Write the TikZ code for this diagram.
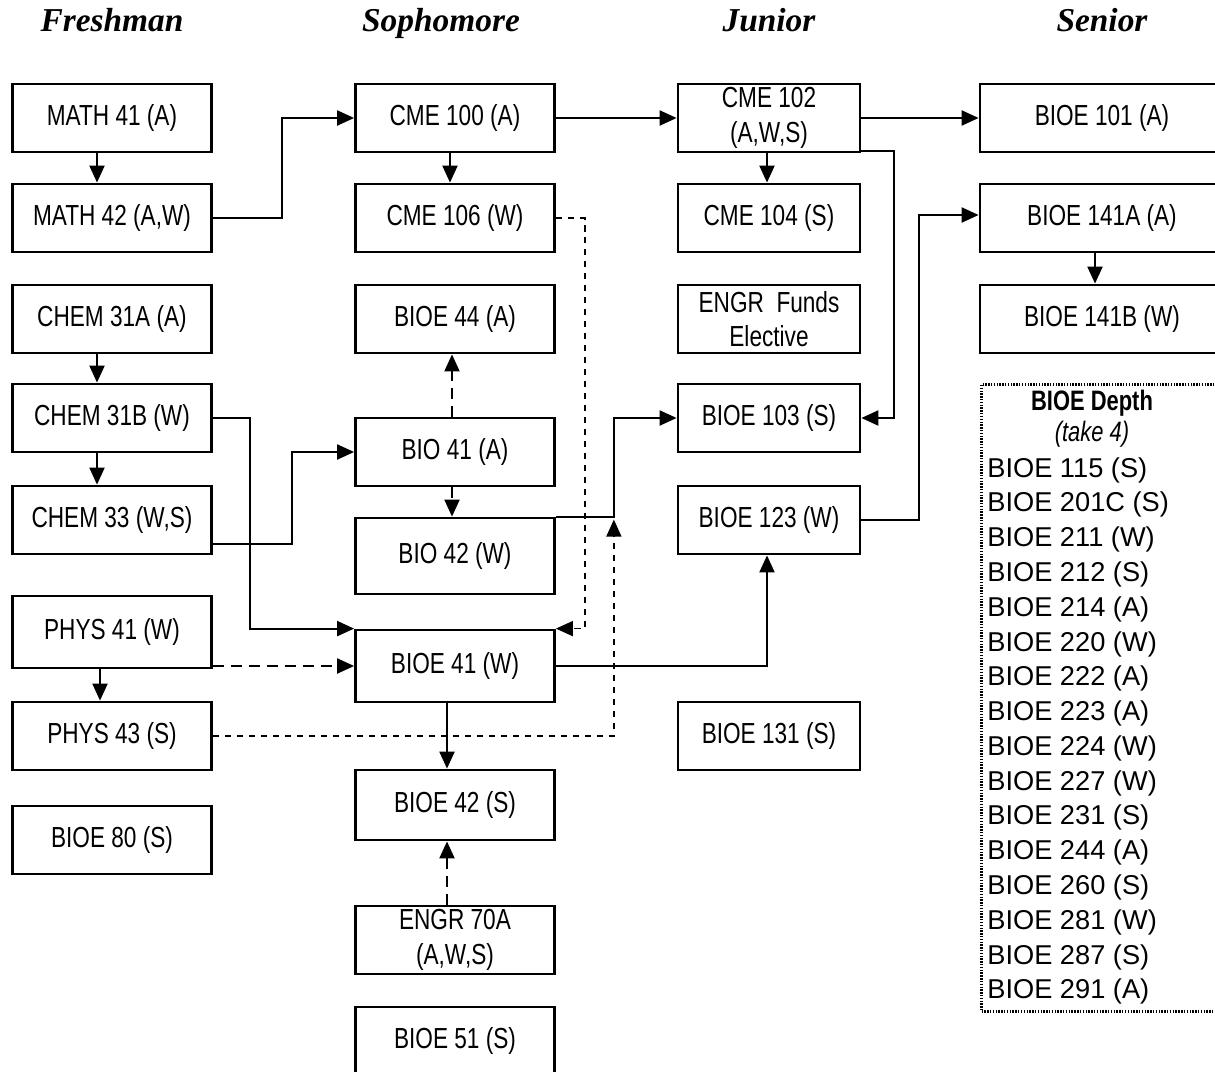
\documentclass[tikz,border=0pt]{standalone}
\usepackage{fontspec}
\setmainfont{Liberation Sans}
\newfontfamily\narrowsf{Liberation Sans}[FakeStretch=0.78]
\newfontfamily\yearfont{Liberation Serif}
\usetikzlibrary{arrows.meta}

\tikzset{
	course/.style={draw,line width=1.6pt,fill=white,minimum width=3.98cm,minimum height=1.36cm,inner sep=0pt,align=center,font=\narrowsf\fontsize{16.5}{19.5}\selectfont},
	jcourse/.style={course,minimum width=3.64cm},
	scourse/.style={course,minimum width=4.88cm},
	year/.style={anchor=base,font=\yearfont\bfseries\itshape\fontsize{19}{22}\selectfont},
	arr/.style={-{Triangle[length=3.4mm,width=3mm]},line width=1.2pt},
	darr/.style={arr,dash pattern=on 2.2mm off 1.4mm},
	farr/.style={arr,line width=0.9pt,dash pattern=on 1.3mm off 1.1mm}
}

\begin{document}
\begin{tikzpicture}[x=0.02cm,y=-0.02cm]
	\useasboundingbox (0,0) rectangle (1215,1072);
	\clip (0,0) rectangle (1215,1072);
	
	%years
	\node[year] (fresh) at (112,31) {Freshman};
	\node[year] (soph)  at (441,31) {Sophomore};
	\node[year] (jun)   at (769,31) {Junior};
	\node[year] (sen)   at (1102,31){Senior};
	
	%freshman
	\node[course] (math41)  at (112,118) {MATH 41 (A)};
	\node[course] (math42)  at (112,218) {MATH 42 (A,W)};
	\node[course] (chem31a) at (112,319) {CHEM 31A (A)};
	\node[course] (chem31b) at (112,418) {CHEM 31B (W)};
	\node[course] (chem33)  at (112,520) {CHEM 33 (W,S)};
	\node[course,minimum height=1.44cm] (phys41) at (112,632) {PHYS 41 (W)};
	\node[course] (phys43)  at (112,736) {PHYS 43 (S)};
	\node[course] (bioe80)  at (112,840) {BIOE 80 (S)};
	
	%sophomore
	\node[course] (cme100)  at (455,118) {CME 100 (A)};
	\node[course] (cme106)  at (455,218) {CME 106 (W)};
	\node[course] (bioe44)  at (455,319) {BIOE 44 (A)};
	\node[course] (bio41)   at (455,452) {BIO 41 (A)};
	\node[course,minimum height=1.52cm] (bio42)  at (455,556) {BIO 42 (W)};
	\node[course,minimum height=1.44cm] (bioe41) at (455,666) {BIOE 41 (W)};
	\node[course,minimum height=1.4cm]  (bioe42) at (455,805) {BIOE 42 (S)};
	\node[course] (engr70a) at (455,940) {ENGR 70A\\(A,W,S)};
	\node[course] (bioe51)  at (455,1041){BIOE 51 (S)};
	
	%junior
	\node[jcourse] (cme102)  at (769,118) {CME 102\\(A,W,S)};
	\node[jcourse] (cme104)  at (769,218) {CME 104 (S)};
	\node[jcourse] (engrfun) at (769,319) {ENGR\ \ Funds\\Elective};
	\node[jcourse] (bioe103) at (769,418) {BIOE 103 (S)};
	\node[jcourse] (bioe123) at (769,520) {BIOE 123 (W)};
	\node[jcourse] (bioe131) at (769,736) {BIOE 131 (S)};
	
	%senior
	\node[scourse] (bioe101)  at (1102,118) {BIOE 101 (A)};
	\node[scourse] (bioe141a) at (1102,218) {BIOE 141A (A)};
	\node[scourse] (bioe141b) at (1102,319) {BIOE 141B (W)};
	
	%depth box
	\node[draw,line width=1.5pt,dash pattern=on 0.8pt off 0.8pt,minimum width=4.86cm,minimum height=12.54cm] (depth) at (1103,698) {};
	\node[font=\narrowsf\bfseries\fontsize{16}{18}\selectfont] (dhead) at (1092,403) {BIOE Depth};
	\node[font=\narrowsf\itshape\fontsize{16}{18}\selectfont] (dtake) at (1092,434) {(take 4)};
	\node[anchor=north west,inner sep=0pt,align=left,font=\fontsize{15.5}{19.8}\selectfont] (dlist) at (987,457)
		{BIOE 115 (S)\\BIOE 201C (S)\\BIOE 211 (W)\\BIOE 212 (S)\\BIOE 214 (A)\\BIOE 220 (W)\\BIOE 222 (A)\\BIOE 223 (A)\\
		 BIOE 224 (W)\\BIOE 227 (W)\\BIOE 231 (S)\\BIOE 244 (A)\\BIOE 260 (S)\\BIOE 281 (W)\\BIOE 287 (S)\\BIOE 291 (A)};
	
	%arrows down
	\draw[arr] ([xshift=-0.3cm]math41.south)  -- ([xshift=-0.3cm]math42.north);
	\draw[arr] ([xshift=-0.3cm]chem31a.south) -- ([xshift=-0.3cm]chem31b.north);
	\draw[arr] ([xshift=-0.3cm]chem31b.south) -- ([xshift=-0.3cm]chem33.north);
	\draw[arr] ([xshift=-0.24cm]phys41.south) -- ([xshift=-0.24cm]phys43.north);
	\draw[arr] ([xshift=-0.1cm]cme100.south)  -- ([xshift=-0.1cm]cme106.north);
	\draw[arr] ([xshift=-0.04cm]cme102.south) -- ([xshift=-0.04cm]cme104.north);
	\draw[arr] ([xshift=-0.14cm]bioe141a.south) -- ([xshift=-0.14cm]bioe141b.north);
	\draw[arr] ([xshift=-0.16cm]bioe41.south) -- ([xshift=-0.16cm]bioe42.north);
	
	%arrows across
	\draw[arr] (math42.east) -- ++(1.38cm,0) |- (cme100.west);
	\draw[arr] (cme100.east) -- (cme102.west);
	\draw[arr] (cme102.east) -- (bioe101.west);
	\draw[arr] ([yshift=0.05cm]cme102.south east) -- ++(0.66cm,0) |- (bioe103.east);
	\draw[arr] (chem31b.east) -- ++(0.74cm,0) |- (bioe41.north west);
	\draw[arr] ([yshift=-0.48cm]chem33.east) -- ++(1.58cm,0) |- (bio41.west);
	\draw[arr] (bio42.north east) -- ++(1.16cm,0) coordinate (junc) |- (bioe103.west);
	\draw[arr] (bioe41.east) -| ([xshift=-0.04cm]bioe123.south);
	\draw[arr] (bioe123.east) -- ++(1.16cm,0) |- ([yshift=0.06cm]bioe141a.west);
	
	%dashed arrows
	\draw[farr] (cme106.east) -- ++(0.58cm,0) |- (bioe41.north east);
	\draw[darr] ([xshift=-0.06cm]bio41.north) -- ([xshift=-0.06cm]bioe44.south);
	\draw[darr] ([xshift=-0.06cm]bio41.south) -- ([xshift=-0.06cm]bio42.north);
	\draw[darr] (phys41.east |- bioe41.west) -- (bioe41.west);
	\draw[farr] (phys43.east) -| ([yshift=-0.06cm]junc);
	\draw[darr] ([xshift=-0.16cm]engr70a.north) -- ([xshift=-0.16cm]bioe42.south);
	
	%\draw[help lines] (0,0) grid[step=100] (1215,1072);
\end{tikzpicture}
\end{document}
